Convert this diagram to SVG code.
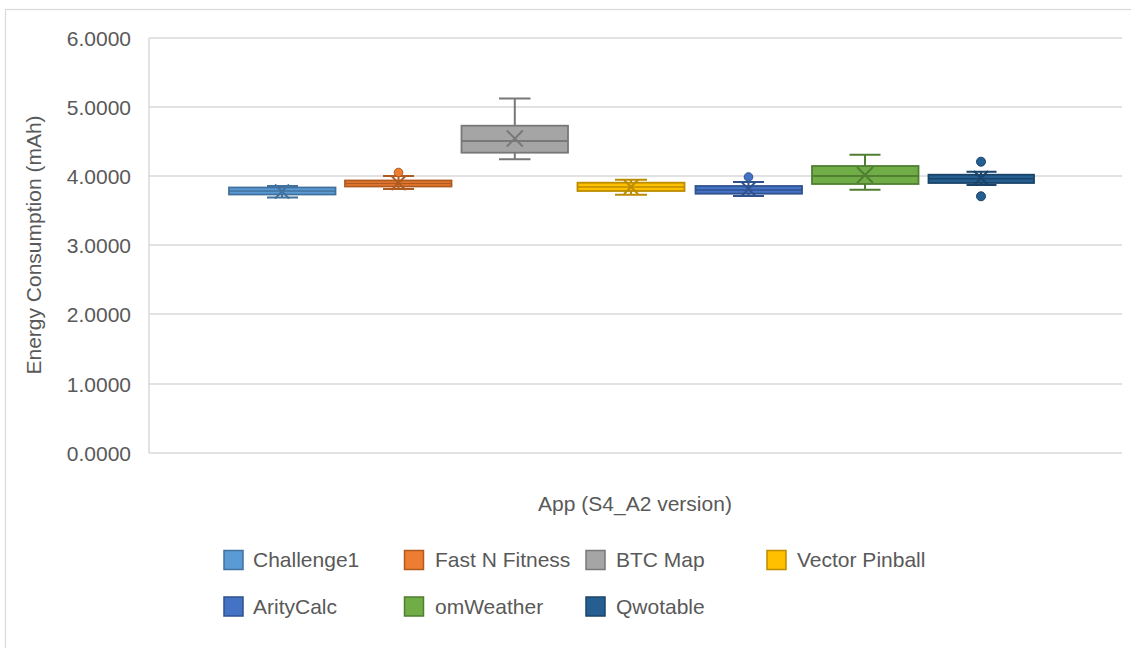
<svg xmlns="http://www.w3.org/2000/svg" width="1131" height="648" viewBox="0 0 1131 648">
<style>
text{font-family:"Liberation Sans",Arial,sans-serif;font-size:21px;fill:#595959}
.grid{stroke:#D9D9D9;stroke-width:1.5;fill:none}
.bx{stroke-width:1.8}
.wh{fill:none;stroke-width:2}
.c1{fill:#5B9BD5;stroke:#41719C}
.c2{fill:#ED7D31;stroke:#AE5A21}
.c3{fill:#A5A5A5;stroke:#787878}
.c4{fill:#FFC000;stroke:#BC8C00}
.c5{fill:#4472C4;stroke:#2F528F}
.c6{fill:#70AD47;stroke:#507E32}
.c7{fill:#255E91;stroke:#1A4469}
</style>
<rect x="0" y="0" width="1131" height="648" fill="#FFFFFF"/>
<rect x="5.5" y="9.5" width="1140" height="660" fill="none" stroke="#D9D9D9" stroke-width="1.2"/>
<g id="axes">
<line class="grid" x1="149" y1="38" x2="1122" y2="38"/>
<line class="grid" x1="149" y1="107" x2="1122" y2="107"/>
<line class="grid" x1="149" y1="176" x2="1122" y2="176"/>
<line class="grid" x1="149" y1="245" x2="1122" y2="245"/>
<line class="grid" x1="149" y1="314" x2="1122" y2="314"/>
<line class="grid" x1="149" y1="384" x2="1122" y2="384"/>
<line class="grid" x1="149" y1="453" x2="1122" y2="453"/>
<line class="grid" x1="149" y1="38" x2="149" y2="453"/>
<g text-anchor="end">
<text x="131" y="46">6.0000</text>
<text x="131" y="115">5.0000</text>
<text x="131" y="184">4.0000</text>
<text x="131" y="253">3.0000</text>
<text x="131" y="322">2.0000</text>
<text x="131" y="392">1.0000</text>
<text x="131" y="461">0.0000</text>
</g>
<text transform="translate(41,245) rotate(-90)" text-anchor="middle">Energy Consumption (mAh)</text>
<text x="635" y="511" text-anchor="middle">App (S4_A2 version)</text>
</g>
<g id="challenge1">
<path class="wh c1" d="M282 187.5V186M267 186H298M282 194.5V197.5M267 197.5H298"/>
<rect class="bx c1" x="229" y="187.5" width="106.5" height="7"/>
<line class="c1" x1="229" y1="191" x2="335.5" y2="191" stroke-width="1.5"/>
<path class="wh c1" d="M275 184.5L289 198.5M289 184.5L275 198.5" stroke-width="1.8"/>
</g>
<g id="fastnfitness">
<path class="wh c2" d="M398.5 180.5V176M383 176H414M398.5 186.5V189M383 189H414"/>
<rect class="bx c2" x="345" y="180.5" width="106.5" height="6"/>
<line class="c2" x1="345" y1="183.5" x2="451.5" y2="183.5" stroke-width="1.5"/>
<path class="wh c2" d="M391.5 176L405.5 190M405.5 176L391.5 190" stroke-width="1.8"/>
<circle class="c2" cx="398.5" cy="172.5" r="4.3" stroke-width="1"/>
</g>
<g id="btcmap">
<path class="wh c3" d="M514.8 125.7V98.5M499 98.5H530.5M514.8 152.7V159.3M499 159.3H530.5"/>
<rect class="bx c3" x="461.5" y="125.7" width="106.5" height="27"/>
<line class="c3" x1="461.5" y1="141" x2="568" y2="141" stroke-width="1.8"/>
<path class="wh c3" d="M506.8 130.5L522.8 146.5M522.8 130.5L506.8 146.5" stroke-width="1.8"/>
</g>
<g id="vectorpinball">
<path class="wh c4" d="M631 182.7V179.7M615 179.7H647M631 191V194.7M615 194.7H647"/>
<rect class="bx c4" x="577.5" y="182.7" width="107" height="8.3"/>
<line class="c4" x1="577.5" y1="187" x2="684.5" y2="187" stroke-width="1.5"/>
<path class="wh c4" d="M624 180L638 194M638 180L624 194" stroke-width="1.8"/>
</g>
<g id="aritycalc">
<path class="wh c5" d="M748.5 186V182M733 182H764M748.5 193.7V196M733 196H764"/>
<rect class="bx c5" x="695.5" y="186" width="106.5" height="7.7"/>
<line class="c5" x1="695.5" y1="190" x2="802" y2="190" stroke-width="1.5"/>
<path class="wh c5" d="M741.5 182L755.5 196M755.5 182L741.5 196" stroke-width="1.8"/>
<circle class="c5" cx="748.5" cy="177" r="4.3" stroke-width="1"/>
</g>
<g id="omweather">
<path class="wh c6" d="M865 166V154.7M849.5 154.7H880.5M865 184V189.7M849.5 189.7H880.5"/>
<rect class="bx c6" x="812" y="166" width="106.5" height="18"/>
<line class="c6" x1="812" y1="176" x2="918.5" y2="176" stroke-width="1.8"/>
<path class="wh c6" d="M857 167L873 183M873 167L857 183" stroke-width="1.8"/>
</g>
<g id="qwotable">
<path class="wh c7" d="M981 174.7V171.7M966.5 171.7H996.5M981 183V185M966.5 185H996.5"/>
<rect class="bx c7" x="928.5" y="174.7" width="105.5" height="8.3"/>
<line class="c7" x1="928.5" y1="178.7" x2="1034" y2="178.7" stroke-width="1.5"/>
<path class="wh c7" d="M974 171L988 185M988 171L974 185" stroke-width="1.8"/>
<circle class="c7" cx="981" cy="161.7" r="4.5" stroke-width="1"/>
<circle class="c7" cx="981" cy="196.3" r="4.5" stroke-width="1"/>
</g>
<g id="legend">
<rect class="c1" x="224" y="550.5" width="19" height="19" stroke-width="1.5"/>
<text x="253" y="567">Challenge1</text>
<rect class="c2" x="404.5" y="550.5" width="19" height="19" stroke-width="1.5"/>
<text x="435" y="567">Fast N Fitness</text>
<rect class="c3" x="586" y="550.5" width="19" height="19" stroke-width="1.5"/>
<text x="616" y="567">BTC Map</text>
<rect class="c4" x="767" y="550.5" width="19" height="19" stroke-width="1.5"/>
<text x="797" y="567">Vector Pinball</text>
<rect class="c5" x="224" y="597" width="19" height="19" stroke-width="1.5"/>
<text x="253" y="614">ArityCalc</text>
<rect class="c6" x="404.5" y="597" width="19" height="19" stroke-width="1.5"/>
<text x="435" y="614">omWeather</text>
<rect class="c7" x="586" y="597" width="19" height="19" stroke-width="1.5"/>
<text x="616" y="614">Qwotable</text>
</g>
</svg>
